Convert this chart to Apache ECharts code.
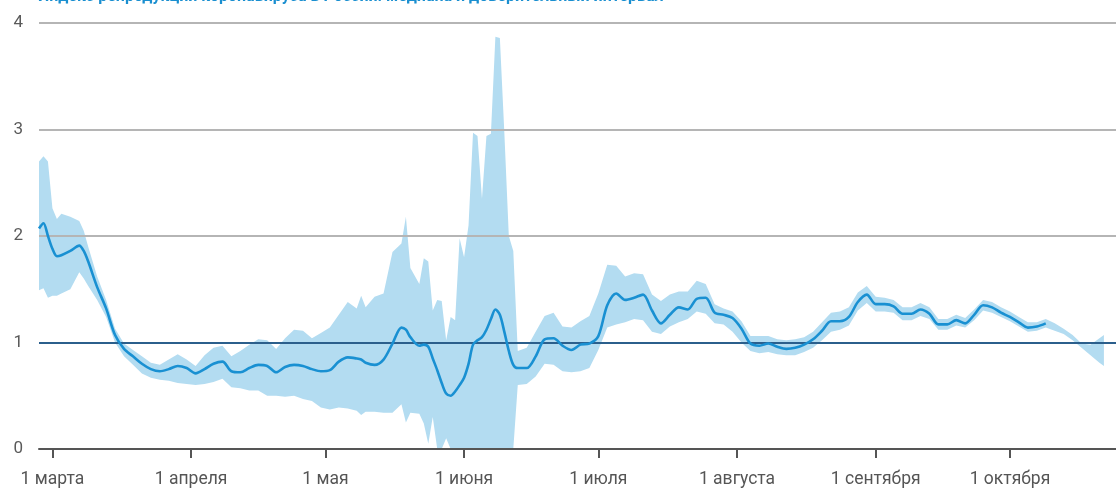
<!DOCTYPE html>
<html>
<head>
<meta charset="utf-8">
<script src="https://cdn.jsdelivr.net/npm/echarts@6/dist/echarts.min.js"></script>
<style>
html,body{margin:0;padding:0;background:#fff;}
#c{width:1116px;height:489px;}
</style>
</head>
<body>
<div id="c"></div>
<script>
// days counted from 1 March
const days = [-3,-2,-1,0,1,2,4,6,7,8,10,12,14,16,18,20,22,24,26,28,30,32,34,36,38,40,42,44,46,48,50,52,54,56,58,60,62,64,66,68,69,70,72,74,76,78,79,80,82,83,84,85,86,87,88,89,90,91,92,93,94,95,96,97,98,99,100,101,102,103,104,106,108,110,112,114,116,118,120,122,124,126,128,130,132,134,136,138,140,142,144,146,148,150,152,154,156,158,160,162,164,166,168,170,172,174,176,178,180,182,184,186,188,190,192,194,196,198,200,202,204,206,208,210,212,214,216,218,220,222,224,226,228,230,232,234,235];
const median = [2.07,2.12,2.0,1.88,1.81,1.82,1.86,1.91,1.86,1.76,1.52,1.32,1.07,0.94,0.87,0.80,0.75,0.73,0.75,0.78,0.76,0.71,0.75,0.80,0.82,0.73,0.72,0.76,0.79,0.78,0.72,0.77,0.79,0.78,0.75,0.73,0.74,0.82,0.86,0.85,0.84,0.81,0.79,0.84,0.99,1.14,1.12,1.05,0.97,0.98,0.96,0.85,0.74,0.62,0.52,0.50,0.54,0.60,0.67,0.80,0.98,1.02,1.05,1.12,1.22,1.31,1.26,1.10,0.92,0.79,0.76,0.76,0.87,1.03,1.04,0.97,0.93,0.98,0.99,1.06,1.35,1.46,1.40,1.42,1.45,1.30,1.18,1.26,1.33,1.31,1.41,1.42,1.28,1.26,1.23,1.13,0.99,0.97,0.99,0.96,0.94,0.95,0.98,1.03,1.11,1.20,1.20,1.24,1.38,1.45,1.36,1.36,1.34,1.27,1.27,1.31,1.27,1.17,1.17,1.21,1.18,1.26,1.35,1.33,1.28,1.24,1.19,1.14,1.15,1.18,null,null,null,null,null,null,null];
const lower = [1.49,1.51,1.42,1.44,1.44,1.46,1.50,1.66,1.60,1.53,1.40,1.24,1.00,0.87,0.79,0.71,0.67,0.65,0.64,0.62,0.61,0.60,0.61,0.63,0.66,0.58,0.57,0.55,0.55,0.50,0.50,0.49,0.50,0.47,0.45,0.39,0.37,0.39,0.38,0.36,0.32,0.35,0.35,0.34,0.34,0.42,0.25,0.34,0.33,0.24,0.05,0.30,0,0,0.10,0,0,0,0,0,0,0,0,0,0,0,0,0,0,0,0.60,0.61,0.68,0.80,0.79,0.73,0.72,0.73,0.76,0.93,1.14,1.17,1.19,1.22,1.21,1.10,1.08,1.15,1.19,1.22,1.29,1.27,1.18,1.17,1.10,1.00,0.92,0.90,0.91,0.89,0.88,0.88,0.91,0.95,1.02,1.10,1.12,1.16,1.30,1.37,1.29,1.29,1.28,1.21,1.21,1.25,1.22,1.12,1.12,1.16,1.14,1.21,1.30,1.28,1.24,1.20,1.15,1.10,1.11,1.14,1.11,1.08,1.02,0.95,0.88,0.81,0.78];
const upper = [2.70,2.75,2.70,2.26,2.16,2.21,2.18,2.14,2.05,1.90,1.62,1.40,1.13,0.99,0.93,0.87,0.81,0.79,0.84,0.89,0.84,0.78,0.88,0.95,0.97,0.87,0.92,0.98,1.03,1.02,0.94,1.04,1.12,1.11,1.04,1.09,1.14,1.26,1.38,1.32,1.44,1.33,1.43,1.46,1.85,1.93,2.18,1.70,1.55,1.79,1.76,1.30,1.40,1.39,1.02,1.24,1.21,1.98,1.80,2.10,2.97,2.94,2.35,2.94,2.96,3.87,3.86,2.97,2.0,1.86,0.92,0.95,1.10,1.25,1.28,1.15,1.14,1.20,1.25,1.46,1.73,1.72,1.62,1.65,1.64,1.45,1.39,1.45,1.48,1.48,1.58,1.55,1.36,1.32,1.29,1.20,1.06,1.06,1.06,1.03,1.02,1.03,1.05,1.10,1.19,1.28,1.29,1.33,1.47,1.53,1.43,1.42,1.40,1.33,1.33,1.37,1.33,1.22,1.22,1.26,1.23,1.31,1.40,1.38,1.33,1.29,1.24,1.19,1.19,1.22,1.18,1.13,1.07,0.99,0.98,1.04,1.07];
const tickDays = [0,31,61,92,122,153,184,214];
const tickLabels = ['1 марта','1 апреля','1 мая','1 июня','1 июля','1 августа','1 сентября','1 октября'];
const yTicks = [0,1,2,3,4];
const titleText = 'Индекс репродукции коронавируса в России: медиана и доверительный интервал';

const medPts = days.map((d,i)=>[d, median[i]]);

const chart = echarts.init(document.getElementById('c'), null, {renderer:'canvas'});
chart.setOption({
  animation:false,
  backgroundColor:'#fff',
  title:{text:titleText,left:33,top:-16,textStyle:{color:'#1a8fd0',fontSize:16,fontWeight:'bold',fontFamily:'Roboto'}},
  grid:{left:39,right:0,top:23,bottom:37,containLabel:false},
  xAxis:{
    type:'value',min:-3,max:237.7,
    axisLine:{show:true,lineStyle:{color:'#555',width:2}},
    axisTick:{show:true,customValues:tickDays,length:9,inside:false,lineStyle:{color:'#555',width:2}},
    axisLabel:{customValues:tickDays,margin:22,color:'#555',fontSize:17.5,fontFamily:'Roboto',
      formatter:function(v){const i=tickDays.indexOf(Math.round(v));return i>=0?tickLabels[i]:'';}},
    splitLine:{show:false}
  },
  yAxis:{
    type:'value',min:0,max:4,interval:1,
    axisLine:{show:false},axisTick:{show:false},
    axisLabel:{color:'#5a5a5a',fontSize:17,fontFamily:'Roboto',margin:16,padding:[0,0,10,0],
      formatter:function(v){return yTicks.indexOf(v)>=0?String(v):'';}},
    splitLine:{show:true,lineStyle:{color:'#b5b5b5',width:2}}
  },
  series:[
    {type:'custom',z:-1,silent:true,clip:true,data:[[0]],
      renderItem:function(params,api){
        const pts=[];
        for(let i=0;i<days.length;i++){pts.push(api.coord([days[i],upper[i]]));}
        for(let i=days.length-1;i>=0;i--){pts.push(api.coord([days[i],lower[i]]));}
        return {type:'polygon',shape:{points:pts},style:{fill:'#b3dcf1'}};
      }},
    {type:'line',data:medPts,symbol:'none',smooth:0.3,connectNulls:false,lineStyle:{color:'#1990d2',width:2.6},z:4,
      markLine:{silent:true,symbol:'none',label:{show:false},lineStyle:{color:'#2b5f8c',width:2,type:'solid'},data:[{yAxis:1}],z:3}}
  ]
});
</script>
</body>
</html>
